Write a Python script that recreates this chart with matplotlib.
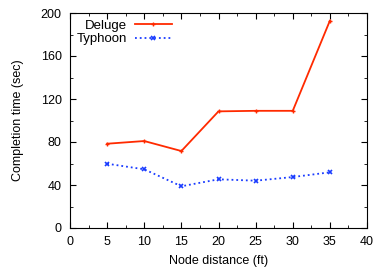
import matplotlib
matplotlib.use('Agg')
import matplotlib.pyplot as plt
from matplotlib.ticker import MultipleLocator

distance = [5, 10, 15, 20, 25, 30, 35]
deluge = [78.4, 80.9, 71.6, 108.5, 109, 109, 192.8]
typhoon = [59.8, 54.6, 38.8, 45.3, 44, 47.4, 51.8]

plt.rcParams['font.family'] = ['Liberation Sans', 'DejaVu Sans']
plt.rcParams['font.size'] = 9

fig = plt.figure(figsize=(3.75, 2.68), dpi=100)
ax = fig.add_axes([70 / 375, 1 - 228 / 268, 297 / 375, 215 / 268])

ax.plot(distance, deluge, color='#ff2a00', linewidth=1.3, marker='+',
        markersize=3, markeredgewidth=1, label='Deluge')
ax.plot(distance, typhoon, color='#1a3cff', linewidth=1.3, linestyle=':',
        marker='x', markersize=3, markeredgewidth=1.2, label='Typhoon')

ax.set_xlim(0, 40)
ax.set_ylim(0, 200)
ax.xaxis.set_major_locator(MultipleLocator(5))
ax.xaxis.set_minor_locator(MultipleLocator(2.5))
ax.yaxis.set_major_locator(MultipleLocator(40))
ax.yaxis.set_minor_locator(MultipleLocator(20))
ax.tick_params(which='both', direction='in', top=True, right=True, pad=6)
ax.tick_params(which='major', length=4)
ax.tick_params(which='minor', length=2)

ax.set_xlabel('Node distance (ft)', labelpad=5)
ax.set_ylabel('Completion time (sec)', labelpad=12)

ax.legend(loc='upper left', markerfirst=False, frameon=False,
          handlelength=2.8, borderaxespad=0.1, labelspacing=0.1,
          handletextpad=0.6, fontsize=9.5)

fig.savefig('out.png', dpi=100)
